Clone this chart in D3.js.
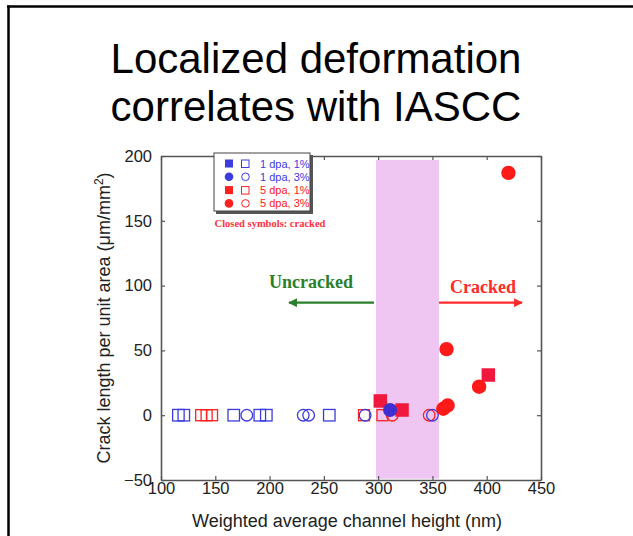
<!DOCTYPE html>
<html><head><meta charset="utf-8">
<script src="https://cdn.jsdelivr.net/npm/d3@7"></script>
<style>body{margin:0;background:#fff}svg{display:block}</style>
</head><body>
<script>
// ---- data ----
const xTicks = [100,150,200,250,300,350,400,450];
const yTicks = [-50,0,50,100,150,200];
const band = [298, 356];
// open (uncracked) symbols: x, y
const open1dpa1 = [[116,0],[121,0],[167,0],[191,0],[197,0],[255,0]];
const open1dpa3 = [[179,0],[231,0],[236,0],[288,0],[350,0]];
const open5dpa1 = [[137,0],[142,0],[147,0],[287,0],[304,0]];
const open5dpa3 = [[313,0],[347,0]];
// closed (cracked) symbols
const closed1dpa1 = [];
const closed1dpa3 = [[311,4]];
const closed5dpa1 = [[302,11],[322,4],[401.5,31]];
const closed5dpa3 = [[360,5],[364,7.5],[363,51],[393,22],[420,187]];
const legendLabels = ["1 dpa, 1%","1 dpa, 3%","5 dpa, 1%","5 dpa, 3%"];

const W=633,H=536;
const BLUE="#3b3be0", RED="#ff2020", BLUEF="#3f2fd0", REDF="#ff1a1a";
const svg=d3.select("body").append("svg").attr("width",W).attr("height",H);

// outer frame (top + left)
svg.append("line").attr("x1",7).attr("x2",W).attr("y1",6.5).attr("y2",6.5).attr("stroke","#000").attr("stroke-width",2.5);
svg.append("line").attr("x1",8.5).attr("x2",8.5).attr("y1",5.5).attr("y2",H).attr("stroke","#000").attr("stroke-width",2.5);

// title
const title=svg.append("text").attr("text-anchor","middle").attr("font-family","Liberation Sans, Arial, sans-serif")
  .attr("font-size",42).attr("fill","#000");
title.append("tspan").attr("x",316).attr("y",73).text("Localized deformation");
title.append("tspan").attr("x",316).attr("y",121).text("correlates with IASCC");

const x=d3.scaleLinear().domain([100,450]).range([161,541]);
const y=d3.scaleLinear().domain([-50,200]).range([480,156]);

// band
svg.append("rect").attr("x",x(band[0])).attr("width",x(band[1])-x(band[0]))
  .attr("y",y(197)).attr("height",y(-49)-y(197)).attr("fill","#efc6f1");

// axes
const AX="#555";
function styleAxis(g){g.select(".domain").attr("stroke",AX).attr("stroke-width",1.6);
  g.selectAll(".tick line").attr("stroke",AX).attr("stroke-width",1.2);
  g.selectAll("text").attr("font-family","Liberation Sans, Arial, sans-serif").attr("font-size",16.5).attr("fill","#222");}
const gx=svg.append("g").attr("transform",`translate(0,${y(-50)})`)
  .call(d3.axisBottom(x).tickValues(xTicks).tickSizeInner(-4).tickSizeOuter(0).tickPadding(2));
styleAxis(gx);
const gy=svg.append("g").attr("transform",`translate(${x(100)},0)`)
  .call(d3.axisLeft(y).tickValues(yTicks).tickSizeInner(-4).tickSizeOuter(0).tickPadding(9));
styleAxis(gy);
const gt=svg.append("g").attr("transform",`translate(0,${y(200)})`)
  .call(d3.axisTop(x).tickValues(xTicks).tickSizeInner(-4).tickSizeOuter(0).tickFormat(""));
styleAxis(gt);
const gr=svg.append("g").attr("transform",`translate(${x(450)},0)`)
  .call(d3.axisRight(y).tickValues(yTicks).tickSizeInner(-4).tickSizeOuter(0).tickFormat(""));
styleAxis(gr);

// axis labels
svg.append("text").attr("x",347).attr("y",527).attr("text-anchor","middle")
  .attr("font-family","Liberation Sans, Arial, sans-serif").attr("font-size",18).attr("fill","#222")
  .text("Weighted average channel height (nm)");
const yl=svg.append("text").attr("transform","translate(110,318) rotate(-90)").attr("text-anchor","middle")
  .attr("font-family","Liberation Sans, Arial, sans-serif").attr("font-size",18).attr("fill","#222");
yl.append("tspan").text("Crack length per unit area (\u03bcm/mm");
yl.append("tspan").attr("font-size",12).attr("dy",-7).text("2");
yl.append("tspan").attr("dy",7).text(")");

// markers
function sq(g,data,size,col,filled){
  g.selectAll(null).data(data).enter().append("rect")
   .attr("x",d=>x(d[0])-size/2).attr("y",d=>y(d[1])-size/2).attr("width",size).attr("height",size)
   .attr("fill",filled?col:"none").attr("stroke",col).attr("stroke-width",filled?0:1.3);
}
function ci(g,data,r,col,filled){
  g.selectAll(null).data(data).enter().append("circle")
   .attr("cx",d=>x(d[0])).attr("cy",d=>y(d[1])).attr("r",r)
   .attr("fill",filled?col:"none").attr("stroke",col).attr("stroke-width",filled?0:1.3);
}
const gm=svg.append("g");
sq(gm,open1dpa1,11.5,BLUE,false);
sq(gm,open5dpa1,11,RED,false);
ci(gm,open5dpa3,5.8,RED,false);
ci(gm,open1dpa3,5.8,BLUE,false);
sq(gm,closed1dpa1,13,BLUEF,true);
sq(gm,closed5dpa1,13.5,"#f0183c",true);
ci(gm,closed1dpa3,7,BLUEF,true);
ci(gm,closed5dpa3,7.2,REDF,true);

// legend
const lg=svg.append("g");
lg.append("rect").attr("x",216).attr("y",155).attr("width",97).attr("height",59).attr("fill","#555");
lg.append("rect").attr("x",214).attr("y",153).attr("width",96).attr("height",58).attr("fill","#fff").attr("stroke","#444").attr("stroke-width",1);
const lcols=[BLUE,BLUE,RED,RED], lshape=["s","c","s","c"];
legendLabels.forEach((t,i)=>{
  const yy=163.5+i*13.3;
  const c=lcols[i];
  if(lshape[i]==="s"){
    lg.append("rect").attr("x",225).attr("y",yy-4).attr("width",8).attr("height",8).attr("fill",c);
    lg.append("rect").attr("x",241.5).attr("y",yy-3.5).attr("width",7.5).attr("height",7.5).attr("fill","none").attr("stroke",c).attr("stroke-width",1);
  } else {
    lg.append("circle").attr("cx",229).attr("cy",yy).attr("r",4.3).attr("fill",c);
    lg.append("circle").attr("cx",245.5).attr("cy",yy).attr("r",3.8).attr("fill","none").attr("stroke",c).attr("stroke-width",1);
  }
  lg.append("text").attr("x",260).attr("y",yy+4).attr("font-family","Liberation Sans, Arial, sans-serif")
    .attr("font-size",11).attr("fill",c).text(t);
});
svg.append("text").attr("x",270).attr("y",227).attr("text-anchor","middle")
  .attr("font-family","Liberation Serif, Times New Roman, serif").attr("font-weight","bold")
  .attr("font-size",10.5).attr("fill","#ff3040").text("Closed symbols: cracked");

// annotations
const GREEN="#2a7f2a";
svg.append("text").attr("x",311).attr("y",288).attr("text-anchor","middle")
  .attr("font-family","Liberation Serif, Times New Roman, serif").attr("font-weight","bold")
  .attr("font-size",18).attr("fill",GREEN).text("Uncracked");
svg.append("text").attr("x",483).attr("y",293).attr("text-anchor","middle")
  .attr("font-family","Liberation Serif, Times New Roman, serif").attr("font-weight","bold")
  .attr("font-size",18).attr("fill","#ff2a2a").text("Cracked");
const defs=svg.append("defs");
function arrow(id,col){
  defs.append("marker").attr("id",id).attr("viewBox","0 0 10 10").attr("refX",9).attr("refY",5)
    .attr("markerWidth",4).attr("markerHeight",4).attr("orient","auto")
    .append("path").attr("d","M0,0L10,5L0,10z").attr("fill",col);
}
arrow("ag",GREEN); arrow("ar","#ff2a2a");
svg.append("line").attr("x1",374).attr("x2",289).attr("y1",302.7).attr("y2",302.7)
  .attr("stroke",GREEN).attr("stroke-width",2.2).attr("marker-end","url(#ag)");
svg.append("line").attr("x1",439).attr("x2",522).attr("y1",302.7).attr("y2",302.7)
  .attr("stroke","#ff2a2a").attr("stroke-width",2.2).attr("marker-end","url(#ar)");
</script>
</body></html>
